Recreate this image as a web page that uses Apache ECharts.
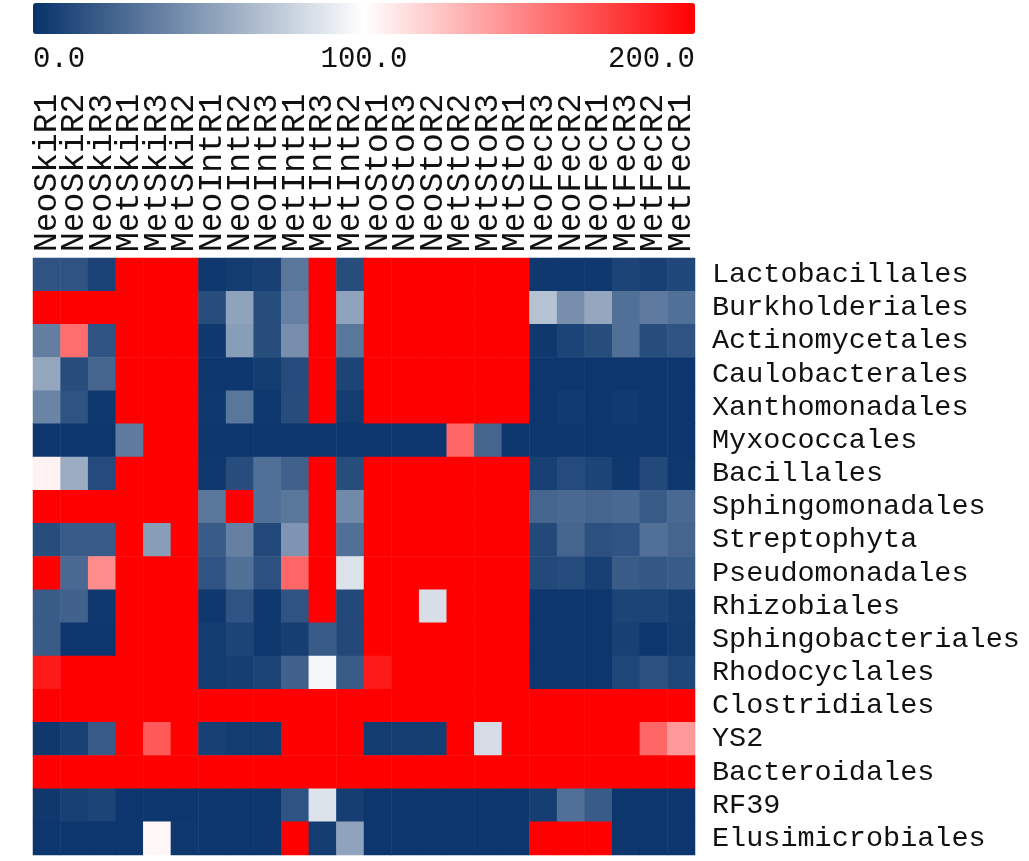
<!DOCTYPE html>
<html>
<head>
<meta charset="utf-8">
<script src="https://cdn.jsdelivr.net/npm/echarts@6/dist/echarts.min.js"></script>
<style>
  html, body { margin: 0; padding: 0; background: #fff; }
  #main { width: 1029px; height: 861px; }
</style>
</head>
<body>
<div id="main"></div>
<script>
// samples (columns) and taxa (rows)
var samples = ['NeoSkiR1', 'NeoSkiR2', 'NeoSkiR3', 'MetSkiR1', 'MetSkiR3', 'MetSkiR2',
  'NeoIntR1', 'NeoIntR2', 'NeoIntR3', 'MetIntR1', 'MetIntR3', 'MetIntR2',
  'NeoStoR1', 'NeoStoR3', 'NeoStoR2', 'MetStoR2', 'MetStoR3', 'MetStoR1',
  'NeoFecR3', 'NeoFecR2', 'NeoFecR1', 'MetFecR3', 'MetFecR2', 'MetFecR1'];
var taxa = ['Lactobacillales', 'Burkholderiales', 'Actinomycetales', 'Caulobacterales',
  'Xanthomonadales', 'Myxococcales', 'Bacillales', 'Sphingomonadales', 'Streptophyta',
  'Pseudomonadales', 'Rhizobiales', 'Sphingobacteriales', 'Rhodocyclales', 'Clostridiales',
  'YS2', 'Bacteroidales', 'RF39', 'Elusimicrobiales'];

// one row per taxon, values (0 - 200)
var values = [
  [16, 16, 8, 200, 200, 200, 3, 5, 7, 33, 200, 13, 200, 200, 200, 200, 200, 200, 3, 3, 3, 9, 7, 10],
  [200, 200, 200, 200, 200, 200, 13, 55, 13, 38, 200, 55, 200, 200, 200, 200, 200, 200, 70, 45, 57, 30, 35, 30],
  [37, 157, 16, 200, 200, 200, 3, 52, 13, 45, 200, 33, 200, 200, 200, 200, 200, 200, 3, 9, 13, 30, 13, 16],
  [57, 13, 25, 200, 200, 200, 2, 2, 5, 12, 200, 9, 200, 200, 200, 200, 200, 200, 2, 2, 2, 2, 2, 2],
  [40, 16, 3, 200, 200, 200, 3, 33, 3, 13, 200, 5, 200, 200, 200, 200, 200, 200, 2, 4, 2, 4, 2, 2],
  [2, 2, 2, 35, 200, 200, 2, 2, 2, 2, 2, 2, 2, 2, 2, 160, 25, 2, 2, 2, 2, 2, 2, 2],
  [105, 60, 12, 200, 200, 200, 3, 13, 30, 23, 200, 13, 200, 200, 200, 200, 200, 200, 7, 12, 9, 3, 11, 3],
  [200, 200, 200, 200, 200, 200, 33, 200, 30, 33, 200, 43, 200, 200, 200, 200, 200, 200, 25, 27, 25, 27, 20, 27],
  [13, 20, 20, 200, 52, 200, 20, 38, 11, 48, 200, 30, 200, 200, 200, 200, 200, 200, 11, 25, 15, 16, 30, 25],
  [200, 27, 145, 200, 200, 200, 16, 30, 15, 160, 200, 86, 200, 200, 200, 200, 200, 200, 11, 12, 7, 20, 18, 20],
  [20, 23, 3, 200, 200, 200, 3, 16, 3, 16, 200, 11, 200, 200, 84, 200, 200, 200, 2, 2, 2, 9, 9, 6],
  [20, 2, 2, 200, 200, 200, 5, 9, 3, 6, 20, 11, 200, 200, 200, 200, 200, 200, 2, 2, 2, 7, 2, 5],
  [190, 200, 200, 200, 200, 200, 5, 6, 9, 23, 96, 20, 190, 200, 200, 200, 200, 200, 2, 2, 2, 10, 15, 10],
  [200, 200, 200, 200, 200, 200, 200, 200, 200, 200, 200, 200, 200, 200, 200, 200, 200, 200, 200, 200, 200, 200, 200, 200],
  [3, 7, 20, 200, 165, 200, 7, 5, 5, 200, 200, 200, 5, 6, 6, 200, 83, 200, 200, 200, 200, 200, 160, 140],
  [200, 200, 200, 200, 200, 200, 200, 200, 200, 200, 200, 200, 200, 200, 200, 200, 200, 200, 200, 200, 200, 200, 200, 200],
  [3, 7, 9, 2, 2, 2, 2, 2, 2, 16, 86, 6, 2, 2, 2, 2, 2, 2, 6, 30, 20, 2, 2, 2],
  [2, 2, 2, 2, 103, 3, 2, 2, 2, 200, 5, 55, 2, 2, 2, 2, 2, 2, 200, 200, 200, 2, 2, 2]
];

// colour bar
var scaleMin = 0;
var scaleMax = 200;
var scaleStep = 100;
var scaleColors = ['#07326a', '#ffffff', '#ff0000'];

var heatData = [];
for (var r = 0; r < values.length; r++) {
  for (var c = 0; c < values[r].length; c++) {
    heatData.push([c, r, values[r][c]]);
  }
}

var monoFont = "'Liberation Mono', 'Courier New', monospace";
var myChart = echarts.init(document.getElementById('main'));

var option = {
  animation: false,
  backgroundColor: '#ffffff',
  grid: [
    { left: 33, top: 258, width: 662, height: 597 },
    // thin strip under the colour bar, only used for its tick labels
    { left: 33, top: 34, width: 662, height: 1 }
  ],
  xAxis: [
    {
      type: 'category',
      data: samples,
      position: 'top',
      gridIndex: 0,
      axisLine: { show: false },
      axisTick: { show: false },
      splitLine: { show: false },
      axisLabel: {
        rotate: -90,
        margin: 6,
        interval: 0,
        color: '#111',
        fontFamily: monoFont,
        fontSize: 33
      }
    },
    {
      type: 'value',
      gridIndex: 1,
      min: scaleMin,
      max: scaleMax,
      interval: scaleStep,
      position: 'bottom',
      axisLine: { show: false },
      axisTick: { show: false },
      splitLine: { show: false },
      axisLabel: {
        margin: 10,
        color: '#111',
        fontFamily: monoFont,
        fontSize: 29,
        alignMinLabel: 'left',
        alignMaxLabel: 'right',
        formatter: function (v) { return v.toFixed(1); }
      }
    }
  ],
  yAxis: [
    {
      type: 'category',
      data: taxa,
      inverse: true,
      position: 'right',
      gridIndex: 0,
      axisLine: { show: false },
      axisTick: { show: false },
      splitLine: { show: false },
      axisLabel: {
        margin: 17,
        interval: 0,
        align: 'left',
        color: '#111',
        fontFamily: monoFont,
        fontSize: 28.5
      }
    },
    { type: 'value', gridIndex: 1, show: false }
  ],
  visualMap: {
    type: 'continuous',
    orient: 'horizontal',
    min: scaleMin,
    max: scaleMax,
    left: 33,
    top: 3,
    padding: 0,
    itemWidth: 31,
    itemHeight: 662,
    calculable: false,
    showLabel: false,
    text: null,
    seriesIndex: 0,
    inRange: { color: scaleColors }
  },
  series: [
    {
      type: 'heatmap',
      xAxisIndex: 0,
      yAxisIndex: 0,
      data: heatData,
      itemStyle: { borderWidth: 0 },
      emphasis: { disabled: true }
    }
  ]
};

myChart.setOption(option);
</script>
</body>
</html>
